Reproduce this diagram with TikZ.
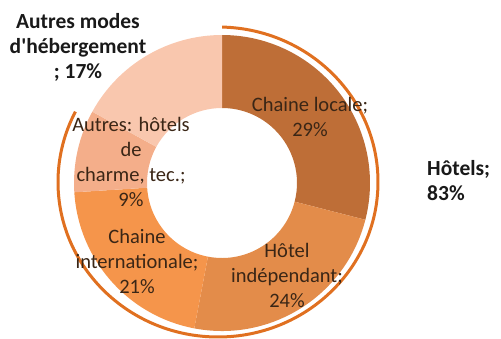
\documentclass[tikz,border=0pt]{standalone}
\usepackage{fontspec}
\setmainfont{Carlito}
\usetikzlibrary{calc}
\definecolor{cLocale}{HTML}{BE6E37}
\definecolor{cIndep}{HTML}{E38C4A}
\definecolor{cInter}{HTML}{F5954B}
\definecolor{cAutH}{HTML}{F4AE8A}
\definecolor{cAutM}{HTML}{F9C7AE}
\definecolor{cRing}{HTML}{E07020}
\definecolor{cLab}{HTML}{3A2616}
\tikzset{
  slicelabel/.style={align=center, text=cLab, font=\fontsize{20.5}{25}\selectfont, inner sep=0pt},
  boldlabel/.style={font=\bfseries\fontsize{21.5}{25}\selectfont, text=black!90, inner sep=0pt},
}
\newcommand{\ringsector}[3]{%
  \fill[#3] ($(C)+(#1:148)$) arc[start angle=#1, end angle=#2, radius=148]
    -- ($(C)+(#2:75)$) arc[start angle=#2, end angle=#1, radius=75] -- cycle;}
\begin{document}
\begin{tikzpicture}[x=1pt,y=1pt]
\useasboundingbox (0,0) rectangle (501,338);
\coordinate (C) at (222,155);
\coordinate (RC) at (218,156);
\ringsector{90}{-14.4}{cLocale}
\ringsector{-14.4}{-100.8}{cIndep}
\ringsector{-100.8}{-176.4}{cInter}
\ringsector{-176.4}{-208.8}{cAutH}
\ringsector{-208.8}{-270}{cAutM}
\draw[cRing, line width=3pt] ($(RC)+(88.5:160 and 155)$) arc[start angle=88.5, end angle=-207, x radius=160, y radius=155];
\node[slicelabel] (locale) at (310,221) {Chaine locale;\\29\%};
\node[slicelabel] (indep) at (287,63) {Hôtel\\indépendant;\\24\%};
\node[slicelabel] (inter) at (137,77) {Chaine\\internationale;\\21\%};
\node[slicelabel] (auth) at (131,176) {Autres: hôtels\\de\\charme, tec.;\\9\%};
\node[boldlabel, align=center] (autm) at (78,291) {Autres modes\\d\textquotesingle hébergement\\; 17\%};
\node[boldlabel, align=left, anchor=west] (hotels) at (427,157) {Hôtels;\\83\%};
\end{tikzpicture}
\end{document}
